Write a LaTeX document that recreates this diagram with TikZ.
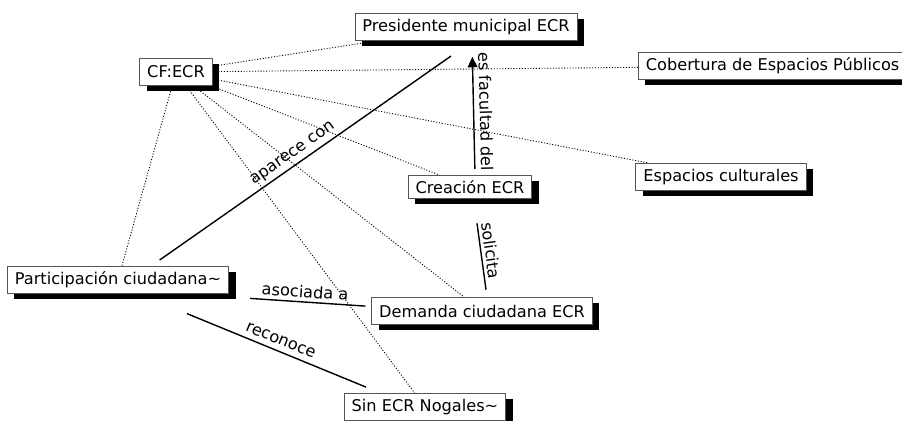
\documentclass[tikz,border=0pt]{standalone}
\usepackage{fontspec}
\setmainfont{DejaVu Sans}
\definecolor{boxgray}{RGB}{85,85,85}
\usetikzlibrary{arrows.meta,calc,shadows}

\begin{document}
\begin{tikzpicture}[x=0.02cm,y=-0.02cm,
  concept/.style={draw=boxgray, line width=0.5pt, fill=white,
    font=\fontsize{9.2}{11}\selectfont, inner xsep=0.15cm, inner ysep=0pt,
    minimum height=0.54cm,
    drop shadow={shadow xshift=0.14cm, shadow yshift=-0.12cm, fill=black, opacity=1}},
  cfline/.style={line width=0.5pt, dash pattern=on 0.6pt off 1pt},
  rel/.style={line width=0.8pt},
  rellabel/.style={font=\fontsize{9.2}{11}\selectfont, inner sep=1pt}]
  \useasboundingbox (0,0) rectangle (902,421);

  % Concepts
  \node[concept] (pres) at (466,27) {Presidente municipal ECR};
  \node[concept] (cfecr) at (176,72) {CF:ECR};
  \node[concept, anchor=west] (cober) at (638,66) {Cobertura de Espacios Públicos};
  \node[concept] (cultur) at (721,177) {Espacios culturales};
  \node[concept, minimum height=0.46cm] (creac) at (470,187) {Creación ECR};
  \node[concept] (partic) at (118,280) {Participación ciudadana\textasciitilde};
  \node[concept] (demanda) at (482,311) {Demanda ciudadana ECR};
  \node[concept] (sinecr) at (425,407) {Sin ECR Nogales\textasciitilde};

  % CF:ECR links
  \foreach \t in {pres,cober,cultur,creac,demanda,sinecr,partic}
    \draw[cfline] (cfecr) -- (\t);

  % Relations
  \draw[rel, shorten <=6pt, shorten >=15pt] ($(partic.north)+(33,0)$) -- ($(pres.south)+(6.6,0)$)
    node[rellabel, pos=0.46, sloped, above=1pt] {aparece con};
  \draw[rel, -{Triangle[length=6pt,width=5.5pt]}, shorten <=3.5pt, shorten >=9pt]
    ($(creac.north)+(5,0)$) -- ($(pres.south)+(6,0)$)
    node[rellabel, pos=0.47, anchor=south, rotate=-88.5, inner ysep=3pt] {es facultad del};
  \draw[rel, shorten <=4.2pt, shorten >=14pt] ($(demanda.north)+(5,0)$) -- ($(creac.south)+(3.7,0)$)
    node[rellabel, pos=0.46, anchor=south, rotate=-82.3, inner ysep=2pt] {solicita};
  \draw[rel, shorten <=12pt, shorten >=3.4pt] ($(partic.east)+(0,17)$) -- ($(demanda.west)+(0,-4.5)$)
    node[rellabel, pos=0.53, sloped, above=1pt] {asociada a};
  \draw[rel, shorten <=29.5pt, shorten >=8.9pt] ($(partic.south)+(21,0)$) -- ($(sinecr.north)+(-44.5,0)$)
    node[rellabel, pos=0.57, sloped, above=2pt] {reconoce};
\end{tikzpicture}
\end{document}
